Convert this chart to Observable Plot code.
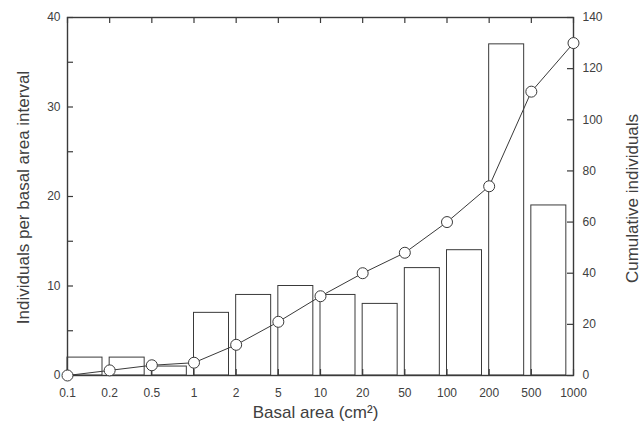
<!DOCTYPE html>
<html><head><meta charset="utf-8">
<script src="https://cdn.jsdelivr.net/npm/d3@7"></script>
<script src="https://cdn.jsdelivr.net/npm/@observablehq/plot@0.6"></script>
<style>body{margin:0;background:#fff;} #chart svg{display:block;}</style>
</head><body><div id="chart"></div>
<script>
const tickLabels = ["0.1","0.2","0.5","1","2","5","10","20","50","100","200","500","1000"];
const counts = [2,2,1,7,9,10,9,8,12,14,37,19];
const cumulative = [0,2,4,5,12,21,31,40,48,60,74,111,130];
const leftMajor = [0,10,20,30,40];
const leftMinor = [5,15,25,35];
const rightTicks = [0,20,40,60,80,100,120,140];
const leftMax = 40, rightMax = 140;
const ratio = leftMax / rightMax;
const barFrac = 0.83;
const xTitle = "Basal area (cm²)";
const yTitle = "Individuals per basal area interval";
const y2Title = "Cumulative individuals";

const W = 641, H = 426, mL = 67, mR = 68, mT = 17, mB = 51, tk = 6;
const nX = tickLabels.length - 1;

const bars = counts.map((c, i) => ({x1: i, x2: i + barFrac, y: c}));
const cum = cumulative.map((c, i) => ({x: i, y: c * ratio}));
const idx = tickLabels.map((_, i) => i);
const rightPos = rightTicks.map(v => v * ratio);
const ink = "#3a3a3a";
const txt = "#404040";

const chart = Plot.plot({
  width: W, height: H,
  marginLeft: mL, marginRight: mR, marginTop: mT, marginBottom: mB,
  style: {fontFamily: "'Liberation Sans', Arial, sans-serif", fontSize: "12px", color: txt, background: "#fff"},
  x: {type: "linear", domain: [0, nX]},
  y: {domain: [0, leftMax]},
  marks: [
    Plot.rectY(bars, {x1: "x1", x2: "x2", y: "y", fill: "white", stroke: ink, strokeWidth: 1}),
    // inward ticks
    Plot.ruleX(idx, {x: d => d, y1: 0, y2: 0, insetTop: -tk, stroke: ink, strokeWidth: 1.2}),
    Plot.ruleX(idx, {x: d => d, y1: leftMax, y2: leftMax, insetBottom: -tk, stroke: ink, strokeWidth: 1.2}),
    Plot.ruleY(leftMajor.concat(leftMinor), {y: d => d, x1: 0, x2: 0, insetRight: -tk, stroke: ink, strokeWidth: 1.2}),
    Plot.ruleY(rightPos, {y: d => d, x1: nX, x2: nX, insetLeft: -tk, stroke: ink, strokeWidth: 1.2}),
    // tick labels
    Plot.axisX(idx, {anchor: "bottom", tickSize: 0, tickPadding: 13, tickFormat: i => tickLabels[i], label: null, fontSize: 12}),
    Plot.axisY(leftMajor, {anchor: "left", tickSize: 0, tickPadding: 7, label: null, fontSize: 12}),
    Plot.axisY(rightPos, {anchor: "right", tickSize: 0, tickPadding: 9, tickFormat: d => String(Math.round(d / ratio)), label: null, fontSize: 12}),
    Plot.frame({stroke: ink, strokeWidth: 1.4}),
    // titles
    Plot.text([xTitle], {text: d => d, frameAnchor: "bottom", dy: 42, dx: -5, textAnchor: "middle", lineAnchor: "bottom", fontSize: 17, fill: txt}),
    Plot.text([yTitle], {text: d => d, frameAnchor: "left", rotate: -90, dx: -51, dy: 1, textAnchor: "middle", lineAnchor: "top", fontSize: 17, fill: txt}),
    Plot.text([y2Title], {text: d => d, frameAnchor: "right", rotate: -90, dx: 52, dy: 2, textAnchor: "middle", lineAnchor: "top", fontSize: 17, fill: txt}),
    Plot.line(cum, {x: "x", y: "y", stroke: ink, strokeWidth: 1}),
    Plot.dot(cum, {x: "x", y: "y", r: 5.5, fill: "white", stroke: ink, strokeWidth: 1})
  ]
});
document.getElementById("chart").appendChild(chart);
</script>
</body></html>
